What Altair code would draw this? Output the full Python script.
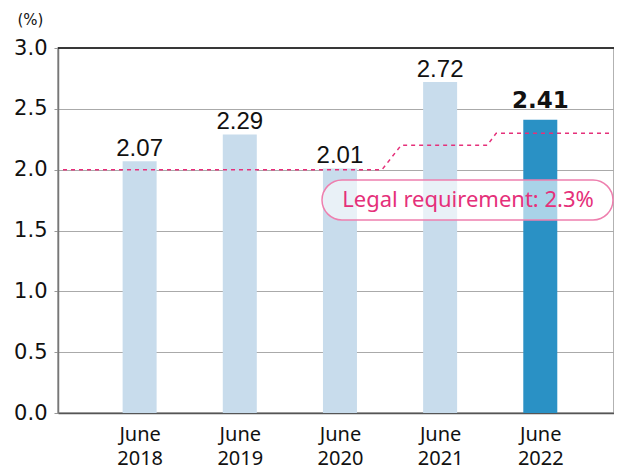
import altair as alt
import pandas as pd

years = [2018, 2019, 2020, 2021, 2022]
rates = [2.07, 2.29, 2.01, 2.72, 2.41]
highlight = [False, False, False, False, True]

req_x = [2017.235, 2020.42, 2020.61, 2021.47, 2021.56, 2022.686]
req_y = [2.0, 2.0, 2.2, 2.2, 2.3, 2.3]

annotation_text = "Legal requirement: 2.3%"

bars_df = pd.DataFrame({"year": years, "rate": rates, "hl": highlight})
req_df = pd.DataFrame({"x": req_x, "y": req_y})

x_scale = alt.Scale(domain=[2017.235, 2022.686], nice=False, zero=False)
y_scale = alt.Scale(domain=[0, 3], nice=False)

PINK = "#e5307a"

x_axis = alt.Axis(
    values=years, format="d", labelExpr="['June', datum.label]",
    title=None, grid=False, ticks=False, domain=True, domainColor="#555",
    domainWidth=1.5, labelFont="Noto Sans", labelFontSize=20,
    labelLineHeight=24, labelPadding=11, labelColor="#111",
)
y_axis = alt.Axis(
    values=[0, 0.5, 1.0, 1.5, 2.0, 2.5, 3.0], format=".1f",
    title="(%)", titleAngle=0, titleX=-28, titleY=-29, titleAlign="center",
    titleBaseline="middle", titleFont="DejaVu Sans", titleFontSize=15,
    titleFontWeight="normal", titleColor="#111",
    grid=True, gridColor="#aaa", gridWidth=1,
    domainColor="#777", domainWidth=1.5, tickColor="#999", tickSize=4,
    labelFont="DejaVu Sans", labelFontSize=21, labelColor="#111", labelPadding=7,
)

base = alt.Chart(bars_df)

bars = base.mark_bar(size=34).encode(
    x=alt.X("year:Q", scale=x_scale, axis=x_axis),
    y=alt.Y("rate:Q", scale=y_scale, axis=y_axis),
    color=alt.Color("hl:N", scale=alt.Scale(domain=[False, True], range=["#c8dcec", "#2a91c5"]), legend=None),
)

labels = base.transform_filter("!datum.hl").mark_text(
    dy=-5, baseline="alphabetic", font="Liberation Sans", fontSize=24, color="#111"
).encode(x=alt.X("year:Q", scale=x_scale), y=alt.Y("rate:Q", scale=y_scale), text=alt.Text("rate:Q", format=".2f"))

labels_hl = base.transform_filter("datum.hl").mark_text(
    dy=-12, baseline="alphabetic", font="DejaVu Sans", fontWeight="bold", fontSize=23, color="#111"
).encode(x=alt.X("year:Q", scale=x_scale), y=alt.Y("rate:Q", scale=y_scale), text=alt.Text("rate:Q", format=".2f"))

top_rule = alt.Chart(pd.DataFrame({"y": [3.0]})).mark_rule(color="#111", strokeWidth=1.5).encode(
    y=alt.Y("y:Q", scale=y_scale)
)

req_line = alt.Chart(req_df).mark_line(color=PINK, strokeDash=[4, 4], strokeWidth=1.5).encode(
    x=alt.X("x:Q", scale=x_scale), y=alt.Y("y:Q", scale=y_scale)
)

box = alt.Chart(pd.DataFrame({"t": [annotation_text]})).mark_rect(
    cornerRadius=20, fill="white", fillOpacity=0.6, stroke="#ee7fae", strokeWidth=1.5
).encode(x=alt.value(264), x2=alt.value(555), y=alt.value(132), y2=alt.value(172))

box_text = alt.Chart(pd.DataFrame({"t": [annotation_text]})).mark_text(
    font="Noto Sans", fontSize=22, color=PINK, align="center", baseline="middle"
).encode(x=alt.value(410), y=alt.value(152), text="t:N")

chart = alt.layer(bars, labels, labels_hl, req_line, box, box_text, top_rule).properties(
    width=556, height=365,
    autosize=alt.AutoSizeParams(type="none"),
    padding={"left": 50, "top": 40, "right": 0, "bottom": 59},
).configure_view(stroke="#999", strokeWidth=1.5)

chart.save("out.html", embed_options={"renderer": "svg", "actions": False})
